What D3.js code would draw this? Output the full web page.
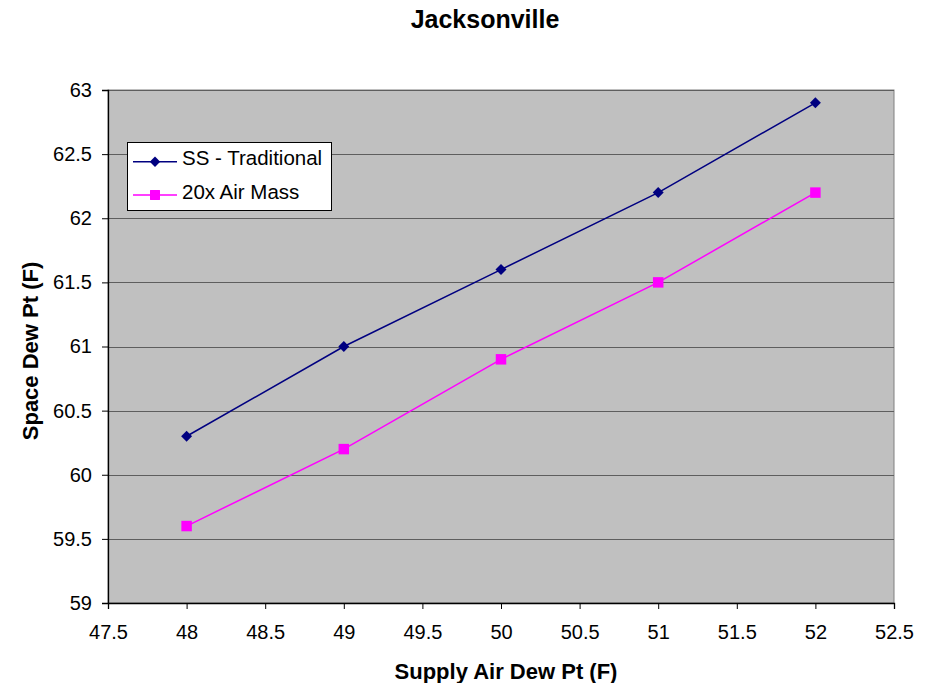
<!DOCTYPE html>
<html>
<head>
<meta charset="utf-8">
<script src="https://cdn.jsdelivr.net/npm/d3@7"></script>
<style>
  html, body { margin: 0; padding: 0; background: #ffffff; }
  svg { display: block; font-family: "Liberation Sans", Arial, sans-serif; }
</style>
</head>
<body>
<svg id="chart" width="929" height="683"></svg>
<script>
// Supply air dew point (F) on the x axis
const supplyDewPt = [48, 49, 50, 51, 52];
// Space dew point (F) for each method
const ssTraditional = [60.3, 61.0, 61.6, 62.2, 62.9];
const airMass20x = [59.6, 60.2, 60.9, 61.5, 62.2];
const seriesNames = ["SS - Traditional", "20x Air Mass"];
const xTicks = [47.5, 48, 48.5, 49, 49.5, 50, 50.5, 51, 51.5, 52, 52.5];
const yTicks = [59, 59.5, 60, 60.5, 61, 61.5, 62, 62.5, 63];

const svg = d3.select("#chart");
const plot = { left: 108, top: 90, right: 894, bottom: 603 };

const x = d3.scaleLinear().domain([47.5, 52.5]).range([plot.left, plot.right]);
const y = d3.scaleLinear().domain([59, 63]).range([plot.bottom, plot.top]);

// Plot background
svg.append("rect")
  .attr("x", plot.left).attr("y", plot.top)
  .attr("width", plot.right - plot.left).attr("height", plot.bottom - plot.top)
  .attr("fill", "#c0c0c0")
  .attr("stroke", "#808080").attr("stroke-width", 1);

// Horizontal gridlines
svg.append("g").selectAll("line")
  .data(yTicks.slice(1))
  .join("line")
  .attr("x1", plot.left).attr("x2", plot.right)
  .attr("y1", d => Math.round(y(d)) + 0.5).attr("y2", d => Math.round(y(d)) + 0.5)
  .attr("stroke", "#5e5e5e").attr("stroke-width", 1);

// Axes
const fmt = d => String(d);
const xAxis = svg.append("g")
  .attr("transform", `translate(0,${plot.bottom})`)
  .call(d3.axisBottom(x).tickValues(xTicks).tickFormat(fmt).tickSize(6).tickPadding(16));
const yAxis = svg.append("g")
  .attr("transform", `translate(${plot.left},0)`)
  .call(d3.axisLeft(y).tickValues(yTicks).tickFormat(fmt).tickSize(6).tickPadding(10));

[xAxis, yAxis].forEach(a => {
  a.select(".domain").attr("stroke", "#000").attr("stroke-width", 1.3);
  a.selectAll(".tick line").attr("stroke", "#000");
  a.selectAll(".tick text").attr("font-size", 20).attr("fill", "#000")
    .attr("font-family", "'Liberation Sans', Arial, sans-serif");
});

// Series: diamonds are squares turned 45 degrees
const series = [
  { name: seriesNames[0], values: ssTraditional, color: "#000080", shape: d3.symbolSquare, size: 60, rot: 45 },
  { name: seriesNames[1], values: airMass20x, color: "#ff00ff", shape: d3.symbolSquare, size: 110, rot: 0 }
];

const line = d3.line().x((d, i) => x(supplyDewPt[i])).y(d => y(d));

series.forEach(s => {
  svg.append("path")
    .datum(s.values)
    .attr("d", line)
    .attr("fill", "none")
    .attr("stroke", s.color)
    .attr("stroke-width", 1.5);
  svg.append("g").selectAll("path")
    .data(s.values)
    .join("path")
    .attr("transform", (d, i) => `translate(${x(supplyDewPt[i])},${y(d)}) rotate(${s.rot})`)
    .attr("d", d3.symbol().type(s.shape).size(s.size))
    .attr("fill", s.color);
});

// Legend
const legend = svg.append("g").attr("transform", "translate(127,142)");
legend.append("rect")
  .attr("x", 0.5).attr("y", 0.5).attr("width", 204).attr("height", 68)
  .attr("fill", "#ffffff").attr("stroke", "#000").attr("stroke-width", 1);
series.forEach((s, i) => {
  const cy = 19.7 + i * 33.3;
  legend.append("line")
    .attr("x1", 6).attr("x2", 50).attr("y1", cy).attr("y2", cy)
    .attr("stroke", s.color).attr("stroke-width", 1.5);
  legend.append("path")
    .attr("transform", `translate(28,${cy}) rotate(${s.rot})`)
    .attr("d", d3.symbol().type(s.shape).size(s.size * 0.9))
    .attr("fill", s.color);
  legend.append("text")
    .attr("x", 55).attr("y", cy + 3.5)
    .attr("font-size", 20.5).attr("fill", "#000")
    .text(s.name);
});

// Titles
svg.append("text")
  .attr("x", 485).attr("y", 28)
  .attr("text-anchor", "middle")
  .attr("font-size", 25).attr("font-weight", "bold")
  .text("Jacksonville");

svg.append("text")
  .attr("x", 506).attr("y", 679)
  .attr("text-anchor", "middle")
  .attr("font-size", 22).attr("font-weight", "bold")
  .text("Supply Air Dew Pt (F)");

svg.append("text")
  .attr("transform", "translate(38,351) rotate(-90)")
  .attr("text-anchor", "middle")
  .attr("font-size", 22).attr("font-weight", "bold")
  .text("Space Dew Pt (F)");
</script>
</body>
</html>
